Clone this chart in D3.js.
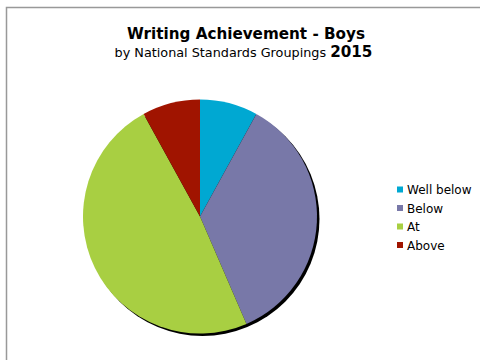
<!DOCTYPE html>
<html>
<head>
<meta charset="utf-8">
<script src="https://cdn.jsdelivr.net/npm/d3@7"></script>
<style>
  body { margin: 0; background: #fff; }
  svg { display: block; font-family: "DejaVu Sans", Verdana, sans-serif; }
</style>
</head>
<body>
<script>
const categories = ["Well below", "Below", "At", "Above"];
const values = [8, 35.5, 48.5, 8];
const colors = ["#00a8d2", "#7878a8", "#a8cf42", "#a01400"];

const width = 480, height = 360;
const cx = 200, cy = 216.5, radius = 117;

const svg = d3.select("body").append("svg")
    .attr("width", width)
    .attr("height", height);

// chart frame, runs off the right and bottom
svg.append("rect")
    .attr("x", 6.5).attr("y", 7.5)
    .attr("width", 500).attr("height", 400)
    .attr("fill", "#fff")
    .attr("stroke", "#999")
    .attr("stroke-width", 1.5);

svg.append("text")
    .attr("x", 246).attr("y", 39)
    .attr("text-anchor", "middle")
    .attr("font-weight", "bold")
    .attr("font-size", 15.2)
    .text("Writing Achievement - Boys");

const sub = svg.append("text")
    .attr("x", 243.5).attr("y", 56.5)
    .attr("text-anchor", "middle")
    .attr("font-size", 12.8);
sub.append("tspan").text("by National Standards Groupings ");
sub.append("tspan").attr("font-weight", "bold").attr("font-size", 15.2).text("2015");

const data = categories.map((c, i) => ({ name: c, value: values[i], color: colors[i] }));
const pie = d3.pie().sort(null).value(d => d.value);
const arc = d3.arc().innerRadius(0).outerRadius(radius);

const g = svg.append("g").attr("transform", `translate(${cx},${cy})`);

// drop shadow
g.append("circle")
    .attr("cx", 2.5).attr("cy", 2.5)
    .attr("r", radius)
    .attr("fill", "#000");

g.selectAll("path.slice")
    .data(pie(data))
    .enter().append("path")
    .attr("class", "slice")
    .attr("d", arc)
    .attr("fill", d => d.data.color);

const legend = svg.selectAll("g.legend")
    .data(data)
    .enter().append("g")
    .attr("class", "legend")
    .attr("transform", (d, i) => `translate(397,${186.5 + i * 18.5})`);

legend.append("rect")
    .attr("width", 6).attr("height", 6)
    .attr("fill", d => d.color);

legend.append("text")
    .attr("x", 10).attr("y", 7.5)
    .attr("font-size", 12)
    .text(d => d.name);
</script>
</body>
</html>
